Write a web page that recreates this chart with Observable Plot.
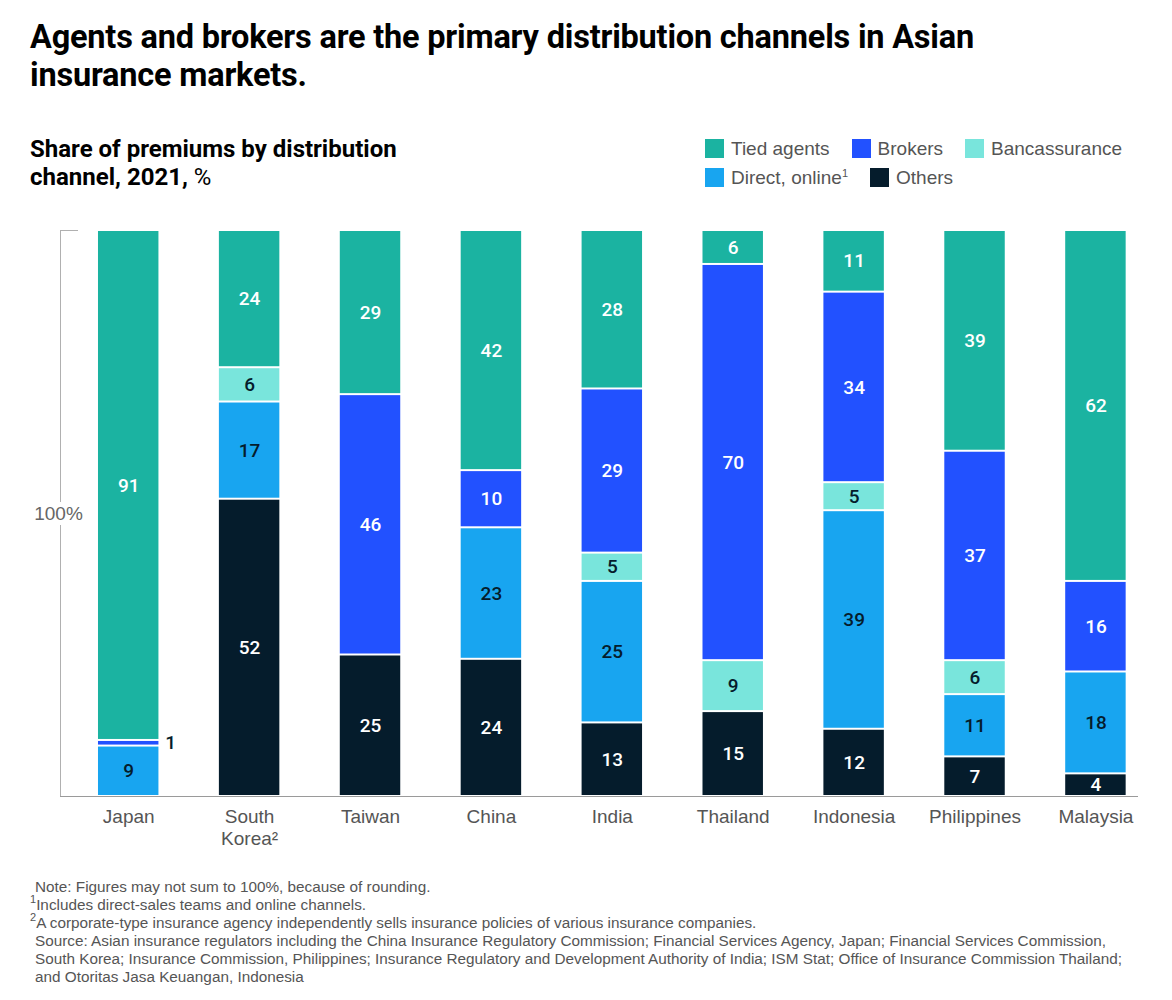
<!DOCTYPE html>
<html>
<head>
<meta charset="utf-8">
<script src="https://cdn.jsdelivr.net/npm/d3@7"></script>
<script src="https://cdn.jsdelivr.net/npm/@observablehq/plot@0.6"></script>
<style>
  body { margin: 0; background: #fff; font-family: "Liberation Sans", Arial, sans-serif; }
  #wrap { position: relative; width: 1172px; height: 1000px; }
  #title { position: absolute; left: 30px; top: 18px; font-family: Roboto, "Liberation Sans", sans-serif; font-weight: 700; font-size: 32.5px; line-height: 38px; color: #000; width: 1050px; letter-spacing: -0.2px; }
  #subtitle { position: absolute; left: 30px; top: 135px; font-family: Roboto, "Liberation Sans", sans-serif; font-weight: 700; font-size: 24px; line-height: 28px; color: #000; }
  #subtitle .reg { font-weight: 400; }
  #legend { position: absolute; left: 705px; top: 134px; font-size: 19px; color: #555; line-height: 29px; }
  .row { display: flex; align-items: center; }
  .item { display: flex; align-items: center; margin-right: 22px; }
  .sw { width: 19px; height: 19px; margin-right: 7px; }
  sup { font-size: 11px; vertical-align: 7px; line-height: 0; }
  #chart { position: absolute; left: 0; top: 200px; }
  #notes { position: absolute; left: 35px; top: 878px; font-size: 15.3px; line-height: 18px; color: #555; width: 1130px; white-space: nowrap; }
  #notes .s { margin-left: -5px; }
</style>
</head>
<body>
<div id="wrap">
  <div id="title">Agents and brokers are the primary distribution channels in Asian<br>insurance markets.</div>
  <div id="subtitle">Share of premiums by distribution<br>channel, 2021, <span class="reg">%</span></div>
  <div id="legend"></div>
  <div id="chart"></div>
  <div id="notes">
    Note: Figures may not sum to 100%, because of rounding.<br>
    <span class="s"><sup>1</sup>Includes direct-sales teams and online channels.</span><br>
    <span class="s"><sup>2</sup>A corporate-type insurance agency independently sells insurance policies of various insurance companies.</span><br>
    Source: Asian insurance regulators including the China Insurance Regulatory Commission; Financial Services Agency, Japan; Financial Services Commission,<br>
    South Korea; Insurance Commission, Philippines; Insurance Regulatory and Development Authority of India; ISM Stat; Office of Insurance Commission Thailand;<br>
    and Otoritas Jasa Keuangan, Indonesia
  </div>
</div>
<script>
const countries = ["Japan", "South Korea", "Taiwan", "China", "India", "Thailand", "Indonesia", "Philippines", "Malaysia"];
const countryLabels = ["Japan", "South\nKorea²", "Taiwan", "China", "India", "Thailand", "Indonesia", "Philippines", "Malaysia"];
const channels = ["Tied agents", "Brokers", "Bancassurance", "Direct, online", "Others"];
const legendLabels = ["Tied agents", "Brokers", "Bancassurance", "Direct, online<sup>1</sup>", "Others"];
const tiedAgents    = [91, 24, 29, 42, 28, 6, 11, 39, 62];
const brokers       = [1, 0, 46, 10, 29, 70, 34, 37, 16];
const bancassurance = [0, 6, 0, 0, 5, 9, 5, 6, 0];
const directOnline  = [9, 17, 0, 23, 25, 0, 39, 11, 18];
const others        = [0, 52, 25, 24, 13, 15, 12, 7, 4];
const yTickLabel = "100%";

const colors = ["#1bb3a1", "#2251ff", "#79e5dc", "#18a5f0", "#051c2c"];
const textColors = ["#ffffff", "#ffffff", "#051c2c", "#051c2c", "#ffffff"];
const series = [tiedAgents, brokers, bancassurance, directOnline, others];

const data = [];
countries.forEach((c, i) => {
  channels.forEach((ch, j) => {
    data.push({country: c, channel: ch, value: series[j][i], tcolor: textColors[j]});
  });
});
const stackOrder = ["Others", "Direct, online", "Bancassurance", "Brokers", "Tied agents"];

// legend
const leg = document.getElementById("legend");
[[0, 1, 2], [3, 4]].forEach(idxs => {
  const row = document.createElement("div");
  row.className = "row";
  idxs.forEach(k => {
    const it = document.createElement("div");
    it.className = "item";
    it.innerHTML = `<span class="sw" style="background:${colors[k]}"></span><span>${legendLabels[k]}</span>`;
    row.appendChild(it);
  });
  leg.appendChild(row);
});

const nonzero = data.filter(d => d.value > 0);
const stackOpts = {x: "country", y: "value", z: "channel", order: stackOrder, offset: "normalize"};

const chart = Plot.plot({
  width: 1172,
  height: 656,
  marginTop: 30,
  marginBottom: 60,
  marginLeft: 60,
  marginRight: 35,
  style: {fontFamily: "'Liberation Sans', Arial, sans-serif", fontSize: "19px", background: "white"},
  x: {domain: countries, paddingInner: 0.5, paddingOuter: 0.204, align: 0.77, round: false, label: null},
  y: {domain: [0, 1], label: null},
  color: {domain: channels, range: colors},
  marks: [
    Plot.frame({anchor: "left", stroke: "#b0b0b0"}),
    Plot.frame({anchor: "bottom", stroke: "#9a9a9a"}),
    Plot.axisY({ticks: [1], tickSize: -18, tickFormat: () => "", stroke: "#b0b0b0", label: null}),
    Plot.text([yTickLabel], {frameAnchor: "left", text: d => d, dx: -2, textAnchor: "middle", fill: "#666", stroke: "white", strokeWidth: 10, fontSize: 19}),
    Plot.axisX({tickSize: 0, tickPadding: 10, tickFormat: (d) => countryLabels[countries.indexOf(d)], fill: "#555", fontSize: 19, lineHeight: 1.2, label: null}),
    Plot.barY(nonzero, Plot.stackY({...stackOpts, fill: "channel", insetTop: 1, insetBottom: 1})),
    Plot.text(nonzero, Plot.stackY({...stackOpts, text: d => d.value >= 3 ? String(d.value) : "", fill: "tcolor", fontSize: 19, fontWeight: 500, fontFamily: "Roboto, 'Liberation Sans', sans-serif"})),
    Plot.text(nonzero, Plot.stackY({...stackOpts, text: d => d.value < 3 ? String(d.value) : "", fill: "#051c2c", fontSize: 19, fontWeight: 500, fontFamily: "Roboto, 'Liberation Sans', sans-serif", dx: 42}))
  ]
});
document.getElementById("chart").appendChild(chart);
</script>
</body>
</html>
